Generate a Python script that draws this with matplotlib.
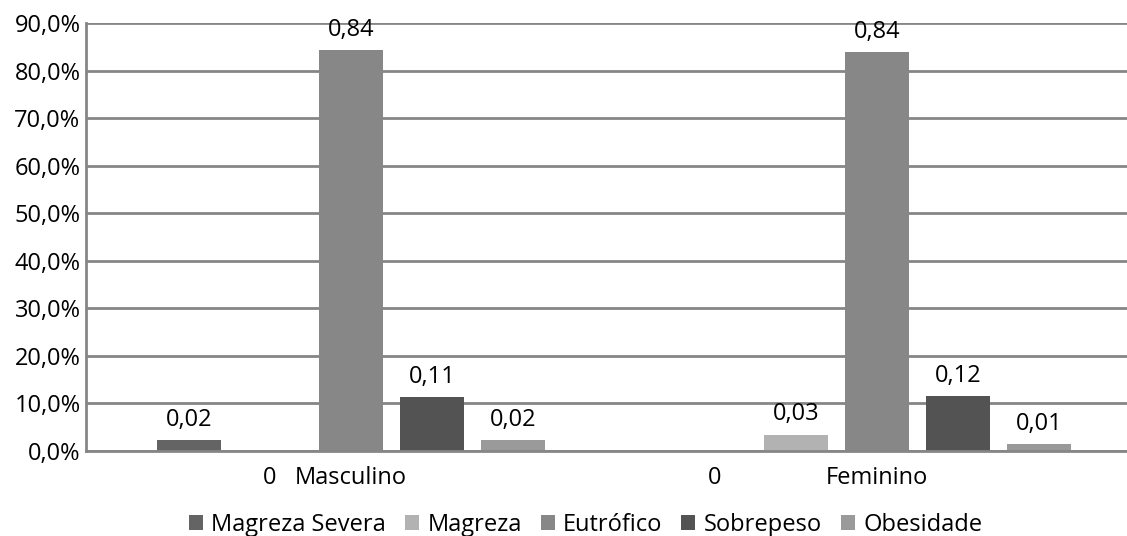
#!/usr/bin/env python3
"""Grouped bar chart: nutritional status by sex (share of each group)."""

import matplotlib.pyplot as plt
import numpy as np

sexes = ["Masculino", "Feminino"]
series = ["Magreza Severa", "Magreza", "Eutrófico", "Sobrepeso", "Obesidade"]
colors = ["#646464", "#b2b2b2", "#878787", "#535353", "#9a9a9a"]

magreza_severa = [0.023, 0.0]
magreza = [0.0, 0.034]
eutrofico = [0.843, 0.838]
sobrepeso = [0.113, 0.116]
obesidade = [0.023, 0.014]

yticks = np.arange(0, 0.91, 0.1)

GRID = "#868686"
FS = 17

plt.rcParams["font.family"] = ["Open Sans", "DejaVu Sans"]


def fmt_label(v):
    if v == 0:
        return "0"
    return f"{v:.2f}".replace(".", ",")


fig = plt.figure(figsize=(11.27, 5.36), dpi=100)
ax = fig.add_axes([86 / 1127, 1 - 451 / 536, 1 - 86 / 1127, (451 - 23) / 536])

values = [magreza_severa, magreza, eutrofico, sobrepeso, obesidade]
x = np.arange(len(sexes))
step = 0.154
width = 0.122
xpad = 10.5

for i, (name, vals, c) in enumerate(zip(series, values, colors)):
    pos = x + (i - 2) * step
    ax.bar(pos, vals, width, color=c, label=name, zorder=3)
    for px, v in zip(pos, vals):
        if v == 0:
            # zero values get their label down on the category row
            ax.annotate("0", (px, 0), xytext=(0, -xpad), textcoords="offset points",
                        ha="center", va="top", fontsize=FS, color="black")
        else:
            ax.annotate(fmt_label(v), (px, v), xytext=(0, 6),
                        textcoords="offset points", ha="center", va="bottom",
                        fontsize=FS, color="black")

ax.set_xlim(-0.504, 1.475)
ax.set_ylim(0, 0.9)
ax.set_yticks(yticks)
ax.set_yticklabels([f"{t * 100:.1f}%".replace(".", ",") for t in yticks], fontsize=FS)
ax.set_xticks(x)
ax.set_xticklabels(sexes, fontsize=FS)
ax.tick_params(axis="both", length=0)
ax.tick_params(axis="x", pad=xpad)
ax.tick_params(axis="y", pad=4)

ax.grid(True, axis="y", color=GRID, linewidth=2, zorder=0)
for side in ["top", "right"]:
    ax.spines[side].set_visible(False)
for side in ["left", "bottom"]:
    ax.spines[side].set_color(GRID)
    ax.spines[side].set_linewidth(2)
    ax.spines[side].set_zorder(4)

ax.legend(loc="center", bbox_to_anchor=(0.5 - 21 / 1041, -0.172), ncol=5,
          frameon=False, fontsize=FS, handlelength=0.6, handleheight=0.6,
          handletextpad=0.35, columnspacing=0.8)

fig.savefig("out.png", dpi=100)
